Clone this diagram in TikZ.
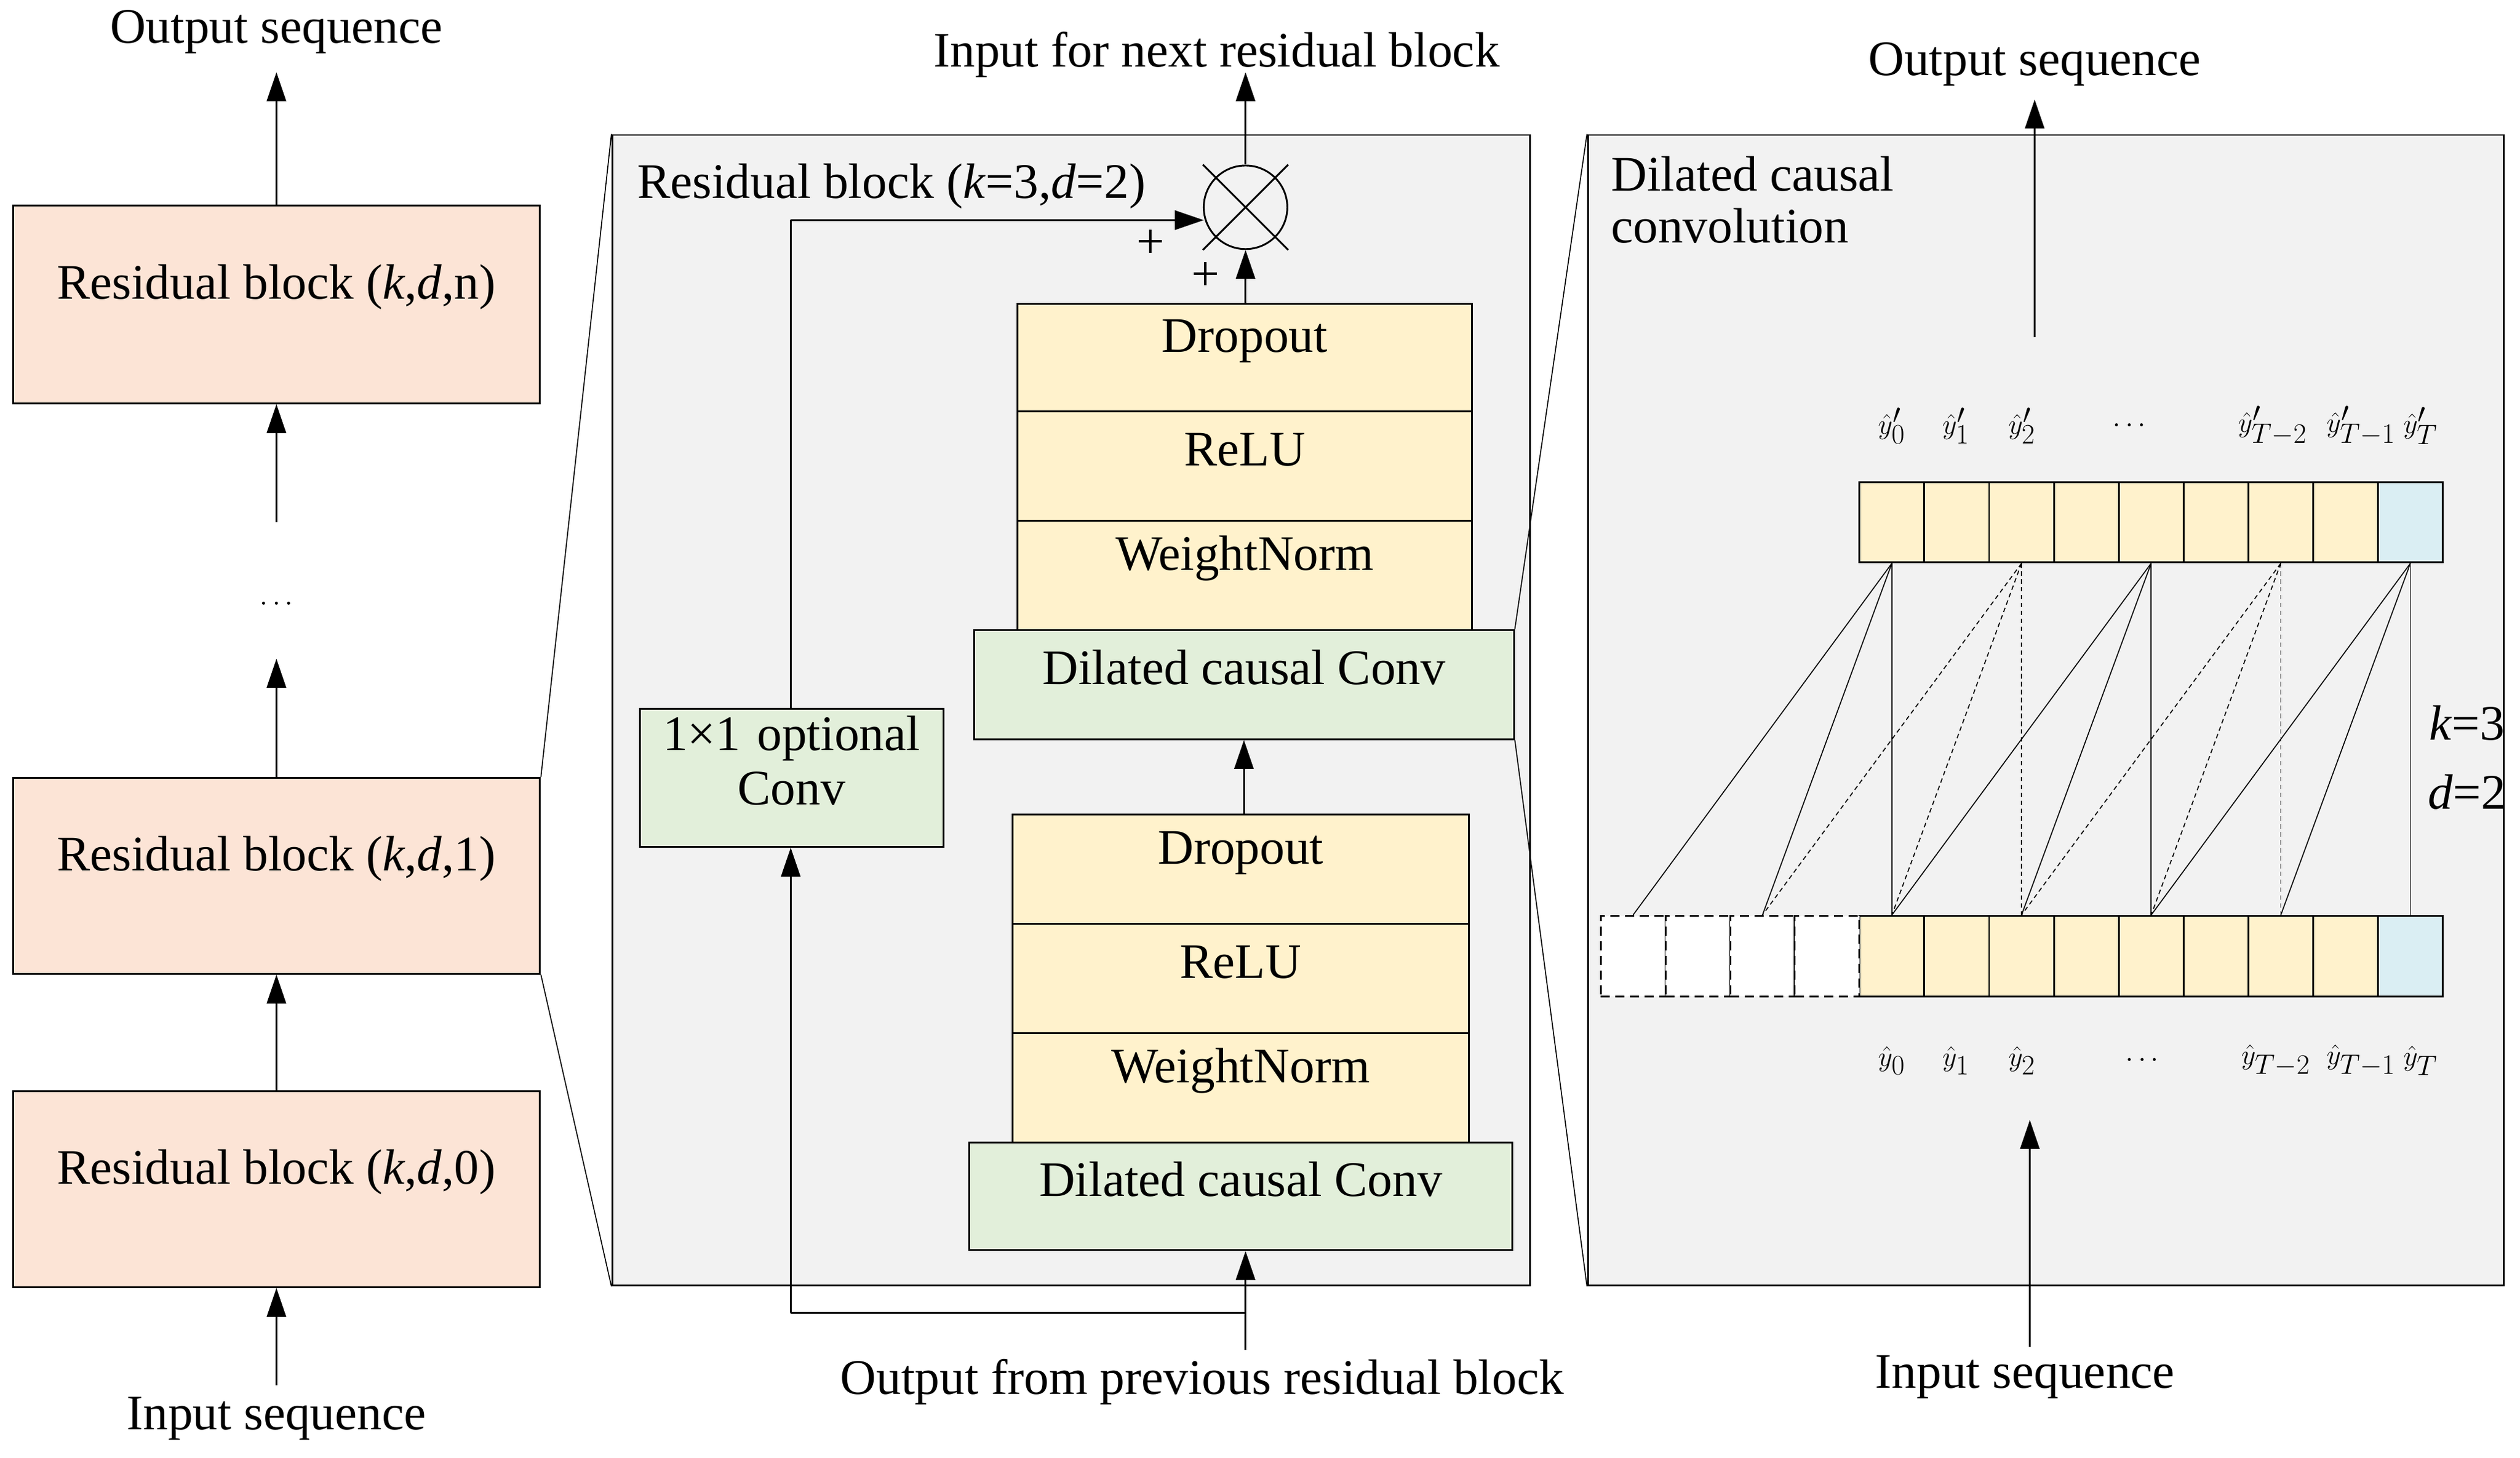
\documentclass[tikz,border=0pt]{standalone}
\usepackage{fontspec}
\setmainfont{Liberation Serif}
\usetikzlibrary{arrows.meta,fit,shapes.misc}
\definecolor{peach}{HTML}{FCE4D6}
\definecolor{yel}{HTML}{FFF2CC}
\definecolor{grn}{HTML}{E2EFDA}
\definecolor{blu}{HTML}{DAEEF3}
\definecolor{pan}{HTML}{F2F2F2}
\begin{document}
\begin{tikzpicture}[x=0.5mm,y=-0.5mm,font=\fontsize{44}{52}\selectfont,
  blk/.style={draw,line width=1.6pt,inner sep=0pt},
  pnl/.style={draw,line width=1.6pt,fill=pan,inner sep=0pt},
  arr/.style={line width=1.6pt,-{Triangle[length=9mm,width=6mm]}},
  ln/.style={line width=1.6pt},
  thin/.style={line width=0.9pt},
  dsh/.style={line width=0.9pt,dash pattern=on 4pt off 3pt}]
\useasboundingbox (0,0) rectangle (1568,907);
% left column
\node[blk,fill=peach,fit={(8,128)(336,251)}] (bn) {Residual block (\textit{k},\textit{d},n)};
\node[blk,fill=peach,fit={(8,484)(336,606)}] (b1) {Residual block (\textit{k},\textit{d},1)};
\node[blk,fill=peach,fit={(8,679)(336,801)}] (b0) {Residual block (\textit{k},\textit{d},0)};
\node (lin) at (172,883) {Input sequence};
\node (lout) at (172,20) {Output sequence};
\node (ldots) at (172,376) {$\cdots$};
\coordinate (a1) at (172,862); \draw[arr] (a1) -- (b0.south);
\draw[arr] (b0.north) -- (b1.south);
\coordinate (a2) at (172,410); \draw[arr] (b1.north) -- (a2);
\coordinate (a3) at (172,325); \draw[arr] (a3) -- (bn.south);
\coordinate (a4) at (172,45); \draw[arr] (bn.north) -- (a4);
% middle panel
\node[pnl,fit={(381,84)(952,800)}] (mp) {};
\node[anchor=west] (mt) at (394,116) {Residual block (\textit{k}=3,\textit{d}=2)};
\draw[thin] (b1.north east) -- (mp.north west);
\draw[thin] (b1.south east) -- (mp.south west);
\node[blk,fill=yel,fit={(633,189)(916,256)}] (ud) {Dropout};
\node[blk,fill=yel,fit={(633,256)(916,324)}] (ur) {ReLU};
\node[blk,fill=yel,fit={(633,324)(916,392)}] (uw) {WeightNorm};
\node[blk,fill=grn,fit={(606,392)(942,460)}] (uc) {Dilated causal Conv};
\node[blk,fill=yel,fit={(630,507)(914,575)}] (ld) {Dropout};
\node[blk,fill=yel,fit={(630,575)(914,643)}] (lr) {ReLU};
\node[blk,fill=yel,fit={(630,643)(914,711)}] (lw) {WeightNorm};
\node[blk,fill=grn,fit={(603,711)(941,778)}] (lc) {Dilated causal Conv};
\node[blk,fill=grn,fit={(398,441)(587,527)},align=center] (oc) {1×1 optional\\[-4pt]Conv};
\node[draw,line width=1.6pt,circle,cross out,minimum size=26mm,fill=white] (mul) at (775,129) {};
\node[draw,line width=1.6pt,circle,minimum size=26mm] at (775,129) {};
\node (nin) at (757,34) {Input for next residual block};
\node (pin) at (748,860) {Output from previous residual block};
\draw[arr] (ld.north -| uc.south) -- (uc.south);
\draw[arr] (ud.north -| mul.south) -- (mul.south);
\coordinate (n1) at (775,45); \draw[arr] (mul.north) -- (n1);
\coordinate (p0) at (775,840); \coordinate (p1) at (775,817); \coordinate (p2) at (492,817);
\draw[arr] (p0) -- (lc.south -| p0);
\draw[ln] (p1) -- (p2);
\draw[arr] (p2) -- (oc.south -| p2);
\coordinate (q1) at (492,137); \coordinate (q2) at (749,137);
\draw[ln] (oc.north -| q1) -- (q1);
\draw[arr] (q1) -- (q2);
\node (plus1) at (716,152) {+};
\node (plus2) at (750,172) {+};
% right panel
\node[pnl,fit={(988,84)(1558,800)}] (rp) {};
\node[anchor=north west,align=left] (rt) at (1000,95) {Dilated causal\\[-6pt]convolution};
\draw[thin] (uc.north east) -- (rp.north west);
\draw[thin] (uc.south east) -- (rp.south west);
\node (rout) at (1266,40) {Output sequence};
\node (rin) at (1260,857) {Input sequence};
\coordinate (r1) at (1266,210); \coordinate (r2) at (1266,62); \draw[arr] (r1) -- (r2);
\coordinate (r3) at (1263,838); \coordinate (r4) at (1263,697); \draw[arr] (r3) -- (r4);
\foreach \i in {0,...,8}{
  \pgfmathsetmacro{\xa}{1157+40.33*\i}\pgfmathsetmacro{\xb}{1157+40.33*(\i+1)}
  \ifnum\i=8 \def\cc{blu}\else\def\cc{yel}\fi
  \node[blk,fill=\cc,fit={(\xa,300)(\xb,350)}] (t\i) {};
  \node[blk,fill=\cc,fit={(\xa,570)(\xb,620)}] (b\i) {};
}
\foreach \i/\n in {1/m4,2/m3,3/m2,4/m1}{
  \pgfmathsetmacro{\xa}{996+40.25*(\i-1)}\pgfmathsetmacro{\xb}{996+40.25*\i}
  \node[draw,line width=1.6pt,dash pattern=on 8pt off 5pt,fill=white,inner sep=0pt,fit={(\xa,570)(\xb,620)}] (\n) {};
}
\foreach \t/\a/\b/\c/\s in {t0/m4/m2/b0/thin,t2/m2/b0/b2/dsh,t4/b0/b2/b4/thin,t6/b2/b4/b6/dsh,t8/b4/b6/b8/thin}{
  \draw[\s] (\t.south) -- (\a.north); \draw[\s] (\t.south) -- (\b.north); \draw[\s] (\t.south) -- (\c.north);
}
\foreach \i/\x in {0/1177,1/1217,2/1258}{
  \node (tl\i) at (\x,265) {$\hat{y}'_{\i}$};
  \node (bl\i) at (\x,660) {$\hat{y}_{\i}$};
}
\node (td) at (1325,265) {$\cdots$};
\node (bd) at (1333,660) {$\cdots$};
\node (tl6) at (1414,265) {$\hat{y}'_{T-2}$};
\node (tl7) at (1469,265) {$\hat{y}'_{T-1}$};
\node (tl8) at (1506,265) {$\hat{y}'_{T}$};
\node (bl6) at (1416,660) {$\hat{y}_{T-2}$};
\node (bl7) at (1469,660) {$\hat{y}_{T-1}$};
\node (bl8) at (1506,660) {$\hat{y}_{T}$};
\node (kk) at (1535,450) {\textit{k}=3};
\node (dd) at (1535,493) {\textit{d}=2};
\end{tikzpicture}
\end{document}
